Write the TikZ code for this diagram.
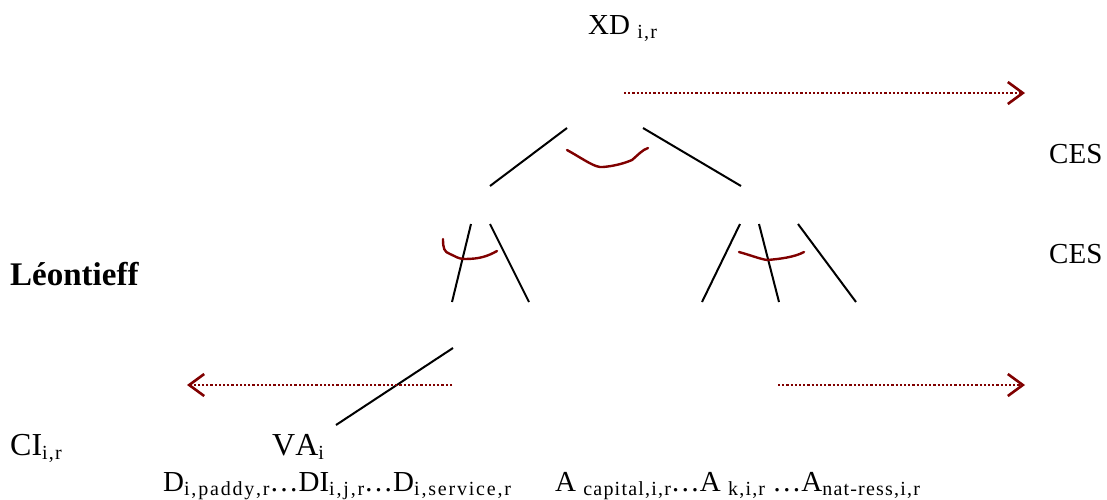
\documentclass[tikz,border=0pt]{standalone}
\usepackage{fontspec}
\setmainfont[Kerning=Off]{Liberation Serif}
\newfontfamily\subfont[Kerning=Off,LetterSpace=6]{Liberation Serif}
\newfontfamily\subfontw[Kerning=Off,LetterSpace=9]{Liberation Serif}
\usetikzlibrary{arrows.meta}
\definecolor{dred}{RGB}{128,0,0}
\newcommand{\sbx}[1]{\raisebox{-4.5pt}{\subfont\fontsize{20}{21}\selectfont #1}}
\newcommand{\sbw}[1]{\raisebox{-4.5pt}{\subfontw\fontsize{20}{21}\selectfont #1}}
\tikzset{
  lbl/.style={anchor=base west, inner sep=0pt, font=\fontsize{29}{32}\selectfont},
  big/.style={lbl, font=\fontsize{32}{34}\selectfont},
  tree/.style={line width=2pt, black},
  elast/.style={line width=2.4pt, dred, line cap=round, line join=round},
  flow/.style={dred, line width=2.2pt, dash pattern=on 2.2pt off 2pt,
     -{Straight Barb[length=15pt,width=22pt,line width=2.6pt]}}
}
\begin{document}
\begin{tikzpicture}[x=1pt,y=-1pt]
\useasboundingbox (0,0) rectangle (1107,499);
% texts
\node[lbl] (xd) at (588,34) {XD \sbx{i,r}};
\node[lbl] (ces1) at (1049,163) {CES};
\node[lbl] (ces2) at (1049,263) {CES};
\node[lbl,font=\fontsize{33}{36}\selectfont\bfseries] (leon) at (10,285) {Léontieff};
\node[big] (ci) at (10,455) {CI\sbx{i,r}};
\node[big] (va) at (272,455) {VA\sbx{i}};
\node[lbl] (drow) at (163,491) {D\sbw{i,paddy,r}\dots DI\sbw{i,j,r}\dots D\sbw{i,service,r}};
\node[lbl] (arow) at (555,491) {A \sbx{capital,i,r}\dots A \sbx{k,i,r} \dots A\sbx{nat-ress,i,r}};
% coordinates
\coordinate (t1a) at (567,128); \coordinate (t1b) at (490,186);
\coordinate (t2a) at (643,128); \coordinate (t2b) at (741,186);
\coordinate (m1a) at (471,224); \coordinate (m1b) at (452,302);
\coordinate (m2a) at (490,224); \coordinate (m2b) at (529,302);
\coordinate (m3a) at (740,224); \coordinate (m3b) at (702,302);
\coordinate (m4a) at (759,224); \coordinate (m4b) at (779,302);
\coordinate (m5a) at (798,224); \coordinate (m5b) at (856,302);
\coordinate (b1a) at (453,348); \coordinate (b1b) at (336,425);
\coordinate (fa1) at (624,93); \coordinate (fa2) at (1025,93);
\coordinate (fb1) at (452,385); \coordinate (fb2) at (187,385);
\coordinate (fc1) at (778,385); \coordinate (fc2) at (1025,385);
% tree lines
\draw[tree] (t1a) -- (t1b);
\draw[tree] (t2a) -- (t2b);
\draw[tree] (m1a) -- (m1b);
\draw[tree] (m2a) -- (m2b);
\draw[tree] (m3a) -- (m3b);
\draw[tree] (m4a) -- (m4b);
\draw[tree] (m5a) -- (m5b);
\draw[tree] (b1a) -- (b1b);
% flows
\draw[flow] (fa1) -- (fa2);
\draw[flow] (fb1) -- (fb2);
\draw[flow] (fc1) -- (fc2);
% elasticity arcs
\draw[elast] (567,150) .. controls (585,160) and (595,168) .. (603,167)
  .. controls (615,166) and (625,163) .. (632,160) .. controls (638,155) and (642,150) .. (648,148);
\draw[elast] (443,239) .. controls (443,248) and (444,252) .. (450,254)
  .. controls (455,256) and (458,259) .. (465,259) .. controls (480,259) and (488,256) .. (497,251);
\draw[elast] (739,252) .. controls (750,255) and (760,259) .. (767,260)
  .. controls (780,259) and (795,257) .. (804,252);
\end{tikzpicture}
\end{document}
